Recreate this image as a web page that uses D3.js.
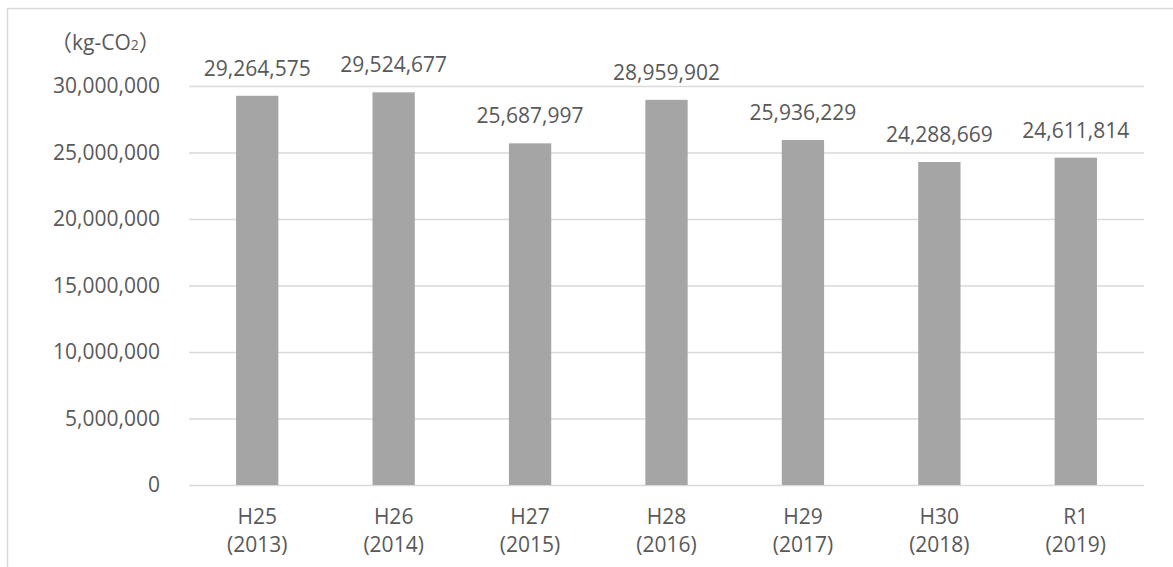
<!DOCTYPE html>
<html>
<head>
<meta charset="utf-8">
<script src="https://cdn.jsdelivr.net/npm/d3@7"></script>
<style>
  html, body { margin: 0; padding: 0; background: #fff; }
  svg { display: block; }
  text { font-family: "Open Sans", "Noto Sans CJK JP", sans-serif; fill: #595959; }
</style>
</head>
<body>
<svg id="chart" width="1173" height="567"></svg>
<script>
// Fiscal years (Japanese era + western year)
const eraLabels  = ["H25", "H26", "H27", "H28", "H29", "H30", "R1"];
const yearLabels = ["(2013)", "(2014)", "(2015)", "(2016)", "(2017)", "(2018)", "(2019)"];
// CO2 emissions, kg-CO2
const emissions = [29264575, 29524677, 25687997, 28959902, 25936229, 24288669, 24611814];
// Y axis ticks
const yTicks = [0, 5000000, 10000000, 15000000, 20000000, 25000000, 30000000];

const svg = d3.select("#chart");
const fontSize = 21;
const fontFamily = "\"Open Sans\", \"Noto Sans CJK JP\", sans-serif";

const plot = { left: 189, right: 1144, top: 86, bottom: 485 };

// chart frame
svg.append("rect")
  .attr("x", 7.5).attr("y", 8.5)
  .attr("width", 1250).attr("height", 650)
  .attr("fill", "none").attr("stroke", "#d9d9d9").attr("stroke-width", 1.5);

const x = d3.scaleBand()
  .domain(eraLabels)
  .range([plot.left, plot.right])
  .paddingInner(0.69)
  .paddingOuter(0.345);

const y = d3.scaleLinear()
  .domain([0, 30000000])
  .range([plot.bottom, plot.top]);

// gridlines + y tick labels via axis
const yAxis = d3.axisLeft(y)
  .tickValues(yTicks)
  .tickSize(-(plot.right - plot.left))
  .tickPadding(29)
  .tickFormat(d3.format(","));

const gy = svg.append("g")
  .attr("transform", `translate(${plot.left},0)`)
  .call(yAxis);
gy.select(".domain").remove();
gy.selectAll(".tick line").attr("stroke", "#d9d9d9").attr("stroke-width", 1.5);
gy.selectAll(".tick text")
  .attr("font-size", fontSize)
  .attr("fill", "#595959")
  .attr("font-family", fontFamily);

// bars
svg.append("g").selectAll("rect")
  .data(emissions)
  .join("rect")
  .attr("x", (d, i) => x(eraLabels[i]))
  .attr("y", d => y(d))
  .attr("width", x.bandwidth())
  .attr("height", d => y(0) - y(d))
  .attr("fill", "#a5a5a5");

// value labels
svg.append("g").selectAll("text")
  .data(emissions)
  .join("text")
  .attr("x", (d, i) => x(eraLabels[i]) + x.bandwidth() / 2)
  .attr("y", d => y(d) - 20)
  .attr("text-anchor", "middle")
  .attr("font-size", fontSize)
  .text(d => d3.format(",")(d));

// category labels (two lines)
const cat = svg.append("g").selectAll("text")
  .data(eraLabels)
  .join("text")
  .attr("text-anchor", "middle")
  .attr("font-size", fontSize)
  .attr("x", d => x(d) + x.bandwidth() / 2)
  .attr("y", 524);
cat.append("tspan").text(d => d);
cat.append("tspan")
  .attr("x", d => x(d) + x.bandwidth() / 2)
  .attr("dy", 28)
  .text((d, i) => yearLabels[i]);

// unit label
const unit = svg.append("text")
  .attr("x", 50).attr("y", 50)
  .attr("font-size", fontSize);
unit.append("tspan").attr("font-size", 22).text("（");
unit.append("tspan").text("kg-CO");
unit.append("tspan").attr("font-size", 14).text("2");
unit.append("tspan").attr("font-size", 22).text("）");
</script>
</body>
</html>
